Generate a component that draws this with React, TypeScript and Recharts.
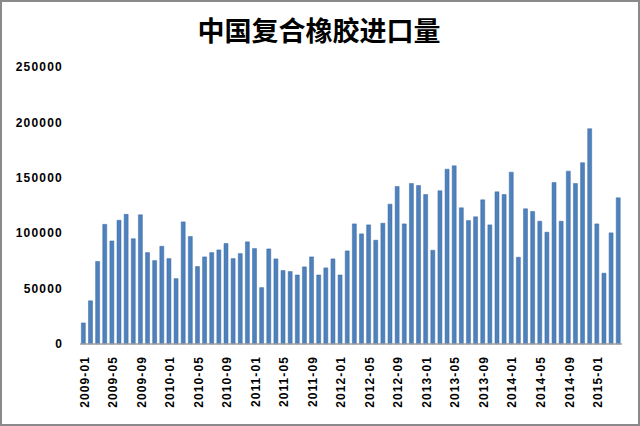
import React from 'react';
import { BarChart, Bar, XAxis, YAxis } from 'recharts';

const months: string[] = [];
for (let y = 2009; y <= 2015; y++) {
  for (let m = 1; m <= 12; m++) {
    if (y === 2015 && m > 4) break;
    months.push(`${y}-${m < 10 ? '0' + m : m}`);
  }
}

const imports = [
  19000, 39000, 74500, 108000, 93000, 111700, 117000, 95000, 116600, 82500, 75300, 88200,
  77100, 59000, 110200, 97000, 69900, 78600, 82500, 84900, 90700, 77100, 81600, 92200,
  86100, 50900, 85800, 76800, 66300, 65400, 62300, 69600, 78600, 62300, 68700, 76800,
  62300, 84000, 108400, 99400, 107500, 93700, 109000, 126200, 142200, 108400, 144900, 143000,
  134900, 84600, 138300, 157800, 160800, 122900, 111400, 114800, 130100, 107500, 137300, 134900,
  155100, 78300, 122000, 119600, 110800, 100900, 145800, 110800, 156000, 144900, 163600, 194300,
  108400, 63900, 100300, 131900,
];

const yTicks = [0, 50000, 100000, 150000, 200000, 250000];
const title = '中国复合橡胶进口量';

const data = months.map((m, i) => ({ month: m, value: imports[i] }));

const XTick = (props: any) => {
  const { x, y, payload } = props;
  return (
    <text
      x={0}
      y={0}
      transform={`translate(${x + 1},${y}) rotate(-90)`}
      textAnchor="end"
      dominantBaseline="central"
      fontSize={12}
      fontWeight="bold"
      letterSpacing={1.1}
      fontFamily="Liberation Sans, Arial, sans-serif"
      fill="#000"
    >
      {payload.value}
    </text>
  );
};

export default function App() {
  return (
    <div style={{ position: 'relative', width: 640, height: 426 }}>
      <style>{`body{margin:0}`}</style>
      <div
        style={{
          position: 'absolute',
          left: 0,
          top: 0,
          width: 640,
          height: 426,
          border: '2px solid #8a8a8a',
          boxSizing: 'border-box',
          pointerEvents: 'none',
          zIndex: 2,
        }}
      />
      <div
        style={{
          position: 'absolute',
          left: 0,
          top: 11,
          width: 638,
          textAlign: 'center',
          fontFamily: '"Noto Sans CJK SC", sans-serif',
          fontWeight: 'bold',
          fontSize: 27,
          lineHeight: '38px',
          color: '#000',
        }}
      >
        {title}
      </div>
      <BarChart
        width={640}
        height={426}
        data={data}
        margin={{ top: 67, right: 18, bottom: 10, left: 0 }}
        barCategoryGap="19%"
      >
        <XAxis
          dataKey="month"
          interval={3}
          tick={<XTick />}
          tickLine={false}
          tickSize={0}
          tickMargin={12}
          height={72}
          axisLine={{ stroke: '#a0a0a0', strokeWidth: 1.5 }}
        />
        <YAxis
          domain={[0, 250000]}
          ticks={yTicks}
          width={80}
          axisLine={false}
          tickLine={false}
          tickSize={6}
          tickMargin={11}
          tick={{
            fontSize: 12,
            fontWeight: 'bold',
            fill: '#000',
            fontFamily: 'Liberation Sans, Arial, sans-serif',
            letterSpacing: 1.2,
          }}
        />
        <Bar dataKey="value" fill="#4f81bd" stroke="#3b6aa3" strokeWidth={0.5} isAnimationActive={false} />
      </BarChart>
    </div>
  );
}
